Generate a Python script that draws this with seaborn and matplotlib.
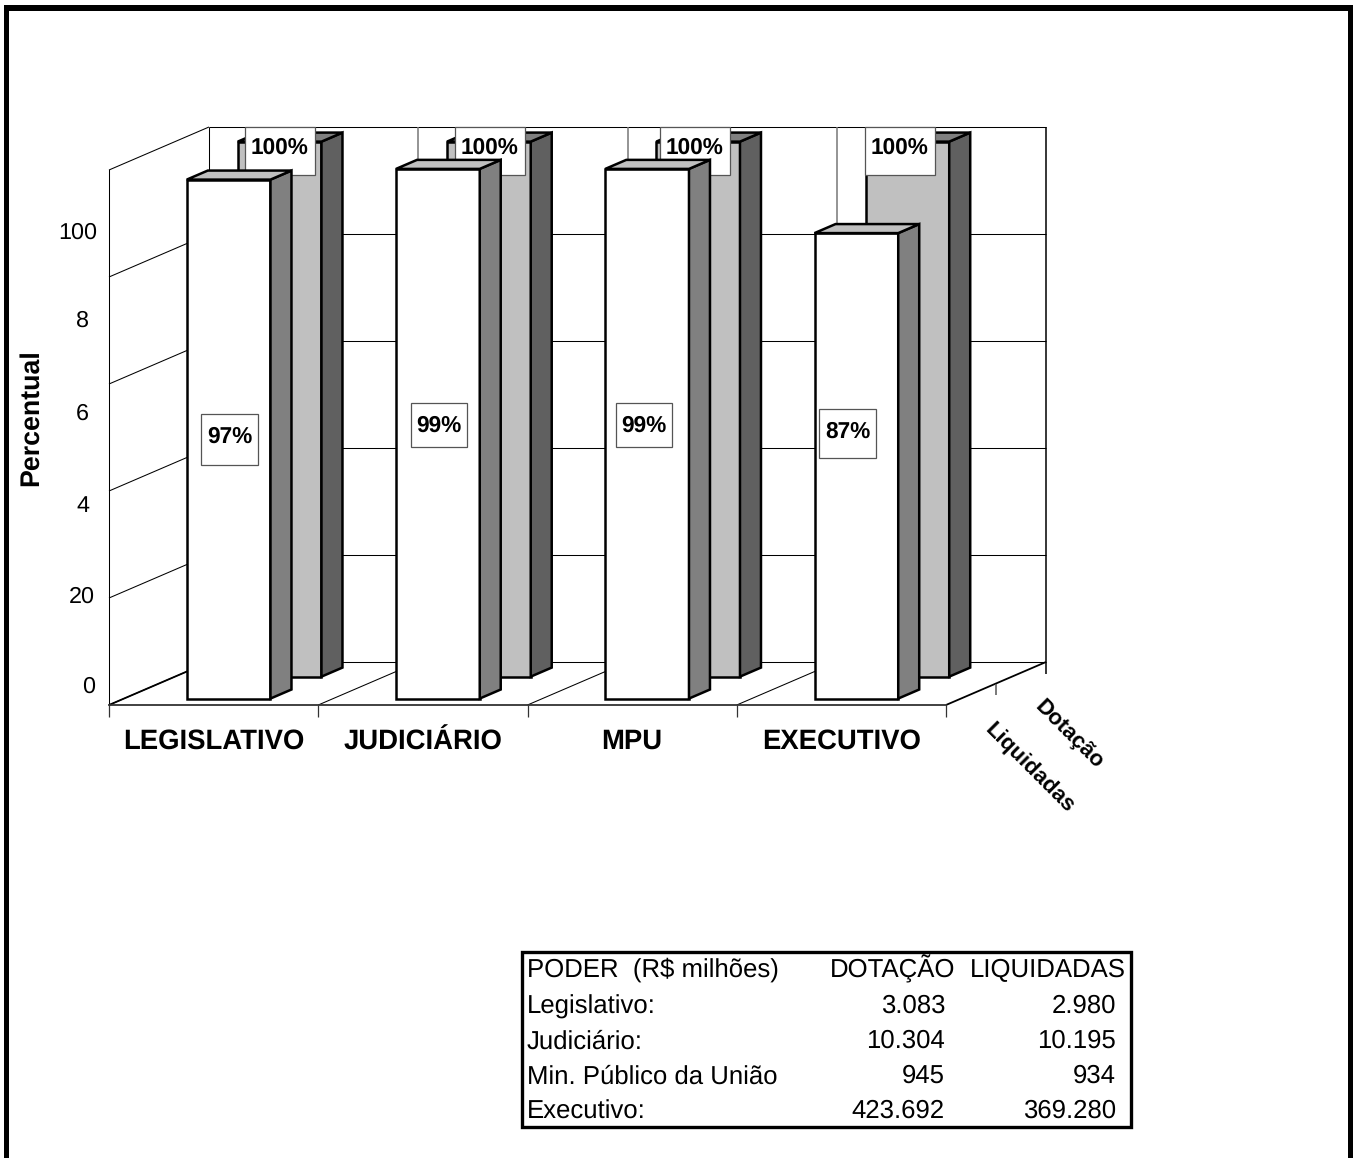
import matplotlib
matplotlib.use("Agg")
import matplotlib.pyplot as plt
from matplotlib.patches import Polygon, Rectangle
from matplotlib.transforms import Affine2D
import pandas as pd
import seaborn as sns

# ---------- data ----------
categories = ["LEGISLATIVO", "JUDICIÁRIO", "MPU", "EXECUTIVO"]
liquidadas = [97, 99, 99, 87]
dotacao = [100, 100, 100, 100]
series_names = ["Liquidadas", "Dotação"]
y_tick_labels = ["0", "20", "4", "6", "8", "100"]
y_grid_levels = [0, 20, 40, 60, 80, 100]
table_header = ["PODER  (R$ milhões)", "DOTAÇÃO", "LIQUIDADAS"]
table_rows = ["Legislativo:", "Judiciário:", "Min. Público da União", "Executivo:"]
table_dotacao = ["3.083", "10.304", "945", "423.692"]
table_liquidadas = ["2.980", "10.195", "934", "369.280"]

# ---------- layout ----------
W, H = 1357, 1158
sns.set_theme(style="white")
plt.rcParams["font.family"] = ["Liberation Sans", "DejaVu Sans"]
plt.rcParams["text.hinting"] = "no_hinting"
fig = plt.figure(figsize=(W / 100, H / 100), dpi=100, facecolor="white")
ax = fig.add_axes([109 / W, (H - 705) / H, 837 / W, 535 / H], facecolor="none")
PIX = Affine2D().scale(1, -1).translate(0, H)   # image pixels -> display

PX_X = 837 / 4          # pixels per category
PX_Y = 535 / 100        # pixels per percent
DEPTH_X, DEPTH_Y = 100 / PX_X, 43 / PX_Y   # whole depth of the floor in data units
BAR_W, BAR_D = 0.4, 0.21
D_FRONT, D_BACK = 0.15, 0.66
THIN = 0.75
BAR_LW = 1.8


def at(x, v, d):
    """Category/value position moved back by depth d."""
    return (x + d * DEPTH_X, v + d * DEPTH_Y)


def wall_line(p, q, color="black", lw=THIN, z=1):
    ax.plot([p[0], q[0]], [p[1], q[1]], color=color, lw=lw, zorder=z,
            clip_on=False, solid_capstyle="butt")


L, R = -0.5, len(categories) - 0.5
# back wall, left wall and floor
for v in y_grid_levels:
    wall_line(at(L, v, 1), at(R, v, 1))
    wall_line(at(L, v, 0), at(L, v, 1))
wall_line(at(L, 0, 1), at(L, 100, 1))
wall_line(at(R, -2.3, 1), at(R, 100, 1), lw=1.1)
for b in [0.5, 1.5, 2.5]:
    wall_line(at(b, 0, 0), at(b, 0, 1))
    wall_line(at(b, 0, 1), at(b, 100, 1), color="#777777", lw=1.1)
wall_line(at(R, 0, 0), at(R, 0, 1), lw=1.3)
wall_line(at(L, 0, 0), at(L, 0, 1), lw=1.3)
wall_line(at(R, -2.2, 0.5), at(R, 0, 0.5), color="#555555", lw=1.1)


def draw_series(values, depth, front, side, top, z):
    n = len(ax.patches)
    frame = pd.DataFrame({"poder": categories, "valor": values})
    sns.barplot(data=frame, x="poder", y="valor", order=categories, color=front,
                saturation=1, width=BAR_W, edgecolor="black", linewidth=BAR_LW,
                errorbar=None, ax=ax, zorder=z)
    for i, (bar, v) in enumerate(zip(ax.patches[n:], values)):
        x0 = i - BAR_W / 2
        x1 = i + BAR_W / 2
        bx, by = at(x0, 0, depth)
        bar.set_x(bx)
        bar.set_y(by)
        bar.set_clip_on(False)
        bar.set_zorder(z)
        d2 = depth + BAR_D
        ax.add_patch(Polygon([at(x1, 0, depth), at(x1, 0, d2), at(x1, v, d2), at(x1, v, depth)],
                             closed=True, facecolor=side, edgecolor="black", lw=BAR_LW,
                             zorder=z, clip_on=False, joinstyle="miter"))
        ax.add_patch(Polygon([at(x0, v, depth), at(x1, v, depth), at(x1, v, d2), at(x0, v, d2)],
                             closed=True, facecolor=top, edgecolor="black", lw=BAR_LW,
                             zorder=z, clip_on=False, joinstyle="miter"))


draw_series(dotacao, D_BACK, "#C0C0C0", "#606060", "#808080", 3)
draw_series(liquidadas, D_FRONT, "#FFFFFF", "#808080", "#C0C0C0", 5)

# ---------- axes ----------
ax.set_xlim(L, R)
ax.set_ylim(0, 100)
for s in ["top", "right"]:
    ax.spines[s].set_visible(False)
ax.spines["left"].set_linewidth(THIN)
ax.spines["left"].set_color("black")
ax.spines["bottom"].set_linewidth(1.3)
ax.spines["bottom"].set_color("#333333")
ax.set_xlabel("")
ax.set_ylabel("")
ax.set_xticks(range(len(categories)))
ax.set_xticklabels(categories, fontsize=19.8, fontweight="bold", color="black")
ax.set_xticks([L, 0.5, 1.5, 2.5, R], minor=True)
ax.tick_params(axis="x", which="major", length=0, pad=31.7)
ax.tick_params(axis="x", which="minor", length=8.6, width=0.9, color="#333333", bottom=True)
for lab, lift in zip(ax.get_xticklabels(), [0, -1, 0, 0]):
    lab.set_verticalalignment("baseline")
    lab.set_transform(lab.get_transform() + Affine2D().translate(0, lift))
# the reference prints its value labels off the gridlines
label_pos = [(705 - y) / PX_Y for y in [684, 594, 504, 411, 318, 230]]
ax.set_yticks(label_pos)
ax.set_yticklabels(y_tick_labels, fontsize=16.8, color="black")
ax.tick_params(axis="y", length=0, pad=8.5, left=False)
for lab, shift in zip(ax.get_yticklabels(), [-2, -2, -8, -8, -8, 0]):
    lab.set_transform(lab.get_transform() + Affine2D().translate(shift, 0))


def pix_text(x, y, s, **kw):
    kw.setdefault("color", "black")
    kw.setdefault("va", "center")
    return ax.text(x, y, s, transform=PIX, clip_on=False, **kw)


pix_text(31, 418, "Percentual", fontsize=19.3, fontweight="bold", rotation=90, ha="center")
pix_text(1069, 735, series_names[1], fontsize=16, fontweight="bold", rotation=-45,
         ha="center", rotation_mode="anchor")
pix_text(1029, 768, series_names[0], fontsize=16, fontweight="bold", rotation=-45,
         ha="center", rotation_mode="anchor")


# ---------- value labels ----------
def value_box(x0, y0, x1, y1, value, tx, ty, z):
    ax.add_patch(Rectangle((x0, y0), x1 - x0, y1 - y0, transform=PIX, facecolor="white",
                           edgecolor="#555555", lw=0.9, zorder=z, clip_on=False))
    pix_text(tx, ty, f"{value}%", fontsize=16.3, fontweight="bold", ha="center", zorder=z + 0.1)


front_boxes = [(201, 414, 258, 465), (411, 403, 467, 447), (616, 403, 672, 447), (819, 409, 876, 458)]
for box, v in zip(front_boxes, liquidadas):
    value_box(*box, v, (box[0] + box[2]) / 2, box[1] + 23, 6)
for x0, v in zip([245, 455, 660, 865], dotacao):
    value_box(x0, 127, x0 + 70, 175, v, x0 + 35, 148, 4)

# ---------- table ----------
ax.add_patch(Rectangle((522, 952), 609, 175, transform=PIX, facecolor="white",
                       edgecolor="black", lw=2.4, zorder=2, clip_on=False))
row_y = [977, 1013, 1048, 1083, 1118]
TS = 18.5
pix_text(527, row_y[0], table_header[0], fontsize=TS, ha="left", va="baseline", zorder=3)
pix_text(955, row_y[0], table_header[1], fontsize=TS, ha="right", va="baseline", zorder=3)
pix_text(1126, row_y[0], table_header[2], fontsize=TS, ha="right", va="baseline", zorder=3)
for y, name, d, q in zip(row_y[1:], table_rows, table_dotacao, table_liquidadas):
    pix_text(527, y + 1, name, fontsize=TS, ha="left", va="baseline", zorder=3)
    pix_text(945, y, d, fontsize=TS, ha="right", va="baseline", zorder=3)
    pix_text(1116, y, q, fontsize=TS, ha="right", va="baseline", zorder=3)

# ---------- outer frame ----------
for rect in [(4, 5, 5, H), (4, 5, 1349, 6), (1348, 5, 5, H)]:
    fig.add_artist(Rectangle((rect[0], rect[1]), rect[2], rect[3], transform=PIX,
                             facecolor="black", edgecolor="none"))

fig.savefig("out.png", dpi=100, facecolor="white")
